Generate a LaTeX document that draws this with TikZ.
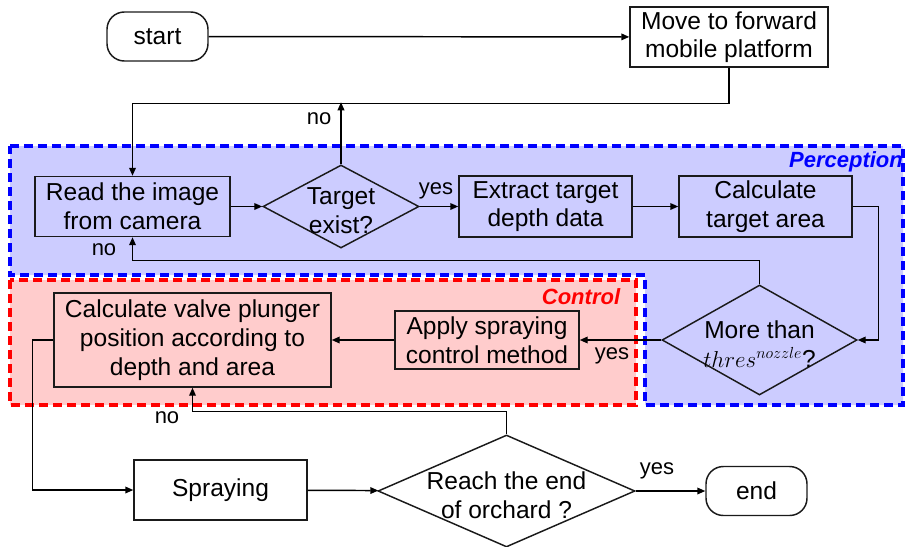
\documentclass[tikz,border=0pt]{standalone}
\usepackage{fontspec}
\setmainfont{Liberation Sans}
\usepackage{xcolor}
\usepackage{tikz}
\usetikzlibrary{arrows.meta,shapes.geometric}
\definecolor{percFill}{HTML}{CCCCFF}
\definecolor{percLine}{HTML}{0000FF}
\definecolor{ctrlFill}{HTML}{FFCCCC}
\definecolor{ctrlLine}{HTML}{FF0000}
\definecolor{edge}{HTML}{1A1A1A}
\newcommand{\flowFont}{\fontsize{18.4}{21.5}\selectfont}
\newcommand{\labelFont}{\fontsize{16.5}{19}\selectfont}
\newcommand{\titleFont}{\fontsize{16.5}{19}\selectfont\bfseries\itshape}
\tikzset{
  flowBox/.style={draw=edge, line width=1.1pt, rectangle, align=center, inner sep=0pt, font=\flowFont},
  flowTerm/.style={flowBox, rounded corners=13pt},
  flowDecision/.style={draw=edge, line width=1.1pt, diamond, inner sep=0pt},
  decisionText/.style={align=center, font=\flowFont, yshift=-3pt},
  flowArrow/.style={draw=black, line width=1.1pt, -{Triangle[length=6pt,width=5pt]}},
  flowLabel/.style={font=\labelFont},
  regionPerc/.style={draw=percLine, fill=percFill, line width=2.4pt, dash pattern=on 7pt off 3.5pt},
  regionCtrl/.style={draw=ctrlLine, fill=ctrlFill, line width=2.4pt, dash pattern=on 7pt off 3.5pt},
  regionTitle/.style={font=\titleFont}
}

\begin{document}
\begin{tikzpicture}[x=0.75pt, y=-0.75pt]
  \useasboundingbox (0,0) rectangle (905,546);

  % regions
  \draw[regionPerc] (10,146) -- (903,146) -- (903,405) -- (645,405) -- (645,275) -- (10,275) -- cycle;
  \draw[regionCtrl] (10,280) rectangle (636,405);
  \node[regionTitle, text=percLine] (percTitle) at (846,162) {Perception};
  \node[regionTitle, text=ctrlLine] (ctrlTitle) at (581,297) {Control};

  % steps
  \node[flowTerm, minimum width=75.75pt, minimum height=36.75pt] (start) at (157.5,36.5) {start};
  \node[flowBox, minimum width=148.5pt, minimum height=45pt] (move) at (729,37) {Move to forward\\mobile platform};
  \node[flowBox, minimum width=146.25pt, minimum height=45pt] (read) at (132.5,206.5) {Read the image\\from camera};
  \node[flowDecision, minimum width=117pt, minimum height=62.25pt,
        label={[decisionText]center:{Target\\exist?}}] (target) at (341,206.5) {};
  \node[flowBox, minimum width=129.75pt, minimum height=45.75pt] (extract) at (545.5,206.5) {Extract target\\depth data};
  \node[flowBox, minimum width=129.75pt, minimum height=45.75pt] (area) at (765.5,206.5) {Calculate\\target area};
  \node[flowDecision, minimum width=146.25pt, minimum height=82.5pt,
        label={[decisionText]center:{More than\\$thres^{nozzle}$?}}] (more) at (759.5,340) {};
  \node[flowBox, minimum width=138pt, minimum height=43.5pt] (apply) at (487,340) {Apply spraying\\control method};
  \node[flowBox, minimum width=207.75pt, minimum height=70.5pt] (valve) at (192.5,340) {Calculate valve plunger\\position according to\\depth and area};
  \node[flowBox, minimum width=129.75pt, minimum height=45pt] (spray) at (220.5,490) {Spraying};
  \node[flowDecision, minimum width=192.75pt, minimum height=84pt,
        label={[decisionText]center:{Reach the end\\of orchard ?}}] (reach) at (506.5,491) {};
  \node[flowTerm, minimum width=75.75pt, minimum height=36.75pt] (end) at (756.5,491) {end};

  % connectors
  \draw[flowArrow] (start) -- (move);
  \draw[flowArrow] (move.south) -- ++(0,36) -| (read.north);
  \draw[flowArrow] (target.north) -- ++(0,-62);
  \draw[flowArrow] (read) -- (target);
  \draw[flowArrow] (target) -- (extract);
  \draw[flowArrow] (extract) -- (area);
  \draw[flowArrow] (area.east) -- ++(26,0) |- (more.east);
  \draw[flowArrow] (more.north) -- ++(0,-24) -| (read.south);
  \draw[flowArrow] (more.west) -- (apply.east);
  \draw[flowArrow] (apply) -- (valve);
  \draw[flowArrow] (valve.west) -- ++(-21,0) |- (spray.west);
  \draw[flowArrow] (spray) -- (reach);
  \draw[flowArrow] (reach.north) -- ++(0,-23) -| (valve.south);
  \draw[flowArrow] (reach.east) -- (end.west);

  % branch labels
  \node[flowLabel] (noTop) at (319,119) {no};
  \node[flowLabel] (noRead) at (104,250) {no};
  \node[flowLabel] (yesTarget) at (436,191) {yes};
  \node[flowLabel] (yesMore) at (612,356) {yes};
  \node[flowLabel] (noReach) at (167,418) {no};
  \node[flowLabel] (yesReach) at (657,471) {yes};
\end{tikzpicture}
\end{document}
